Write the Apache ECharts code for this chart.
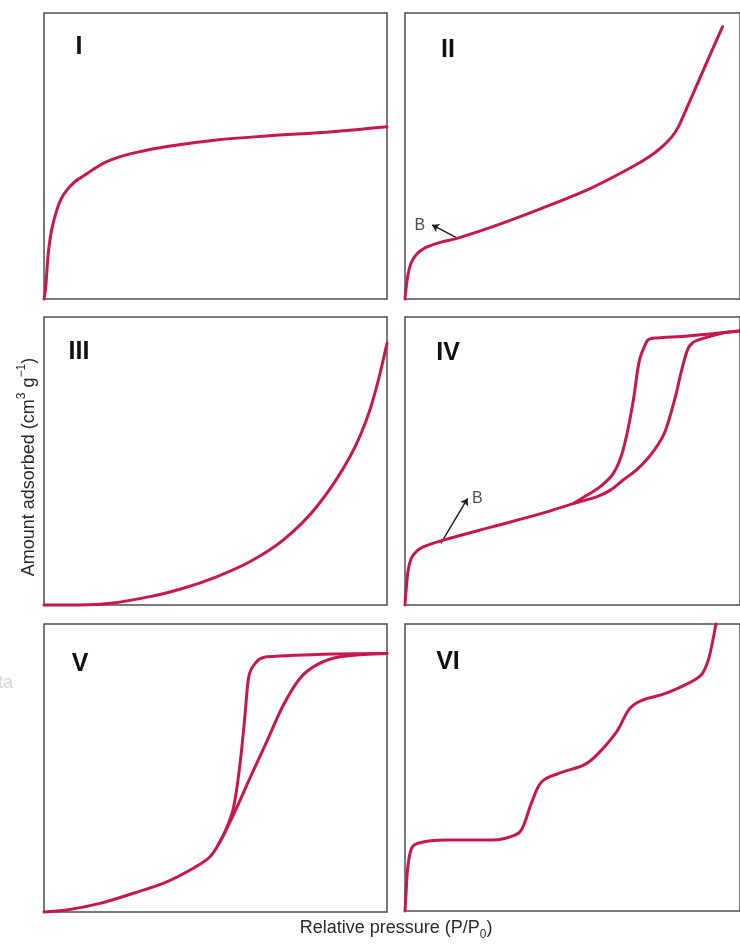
<!DOCTYPE html>
<html>
<head>
<meta charset="utf-8">
<script src="https://cdn.jsdelivr.net/npm/echarts@6/dist/echarts.min.js"></script>
<style>
  html, body { margin: 0; padding: 0; background: #ffffff; }
  #chart { width: 740px; height: 944px; }
</style>
</head>
<body>
<div id="chart"></div>
<script>
// ---- Data (relative pressure P/P0, normalised amount adsorbed) ----
const panelLabels = ['I', 'II', 'III', 'IV', 'V', 'VI'];

const typeI = [[0,0],[0.004,0.03],[0.008,0.09],[0.0125,0.16],[0.022,0.24],[0.037,0.31],[0.05,0.35],[0.066,0.38],[0.09,0.41],[0.115,0.43],[0.15,0.458],[0.183,0.48],[0.22,0.497],[0.26,0.51],[0.358,0.533],[0.503,0.556],[0.649,0.57],[0.843,0.585],[1.0,0.602]];

const typeII = [[0,0],[0.004,0.045],[0.0096,0.09],[0.018,0.125],[0.029,0.148],[0.045,0.168],[0.068,0.183],[0.105,0.198],[0.155,0.212],[0.262,0.253],[0.408,0.317],[0.554,0.387],[0.671,0.457],[0.73,0.498],[0.768,0.533],[0.795,0.565],[0.816,0.602],[0.84,0.665],[0.865,0.731],[0.904,0.836],[0.948,0.952]];

const typeIII = [[0,0],[0.163,0.003],[0.309,0.029],[0.406,0.058],[0.503,0.098],[0.60,0.15],[0.698,0.226],[0.795,0.341],[0.892,0.515],[0.95,0.677],[1.0,0.909]];

const typeIVads = [[0,0],[0.004,0.06],[0.0096,0.122],[0.018,0.16],[0.029,0.18],[0.045,0.196],[0.068,0.208],[0.117,0.226],[0.262,0.272],[0.408,0.318],[0.505,0.353],[0.573,0.376],[0.612,0.398],[0.651,0.434],[0.692,0.47],[0.729,0.515],[0.756,0.558],[0.778,0.608],[0.807,0.723],[0.826,0.816],[0.845,0.891],[0.86,0.912],[0.875,0.920],[0.943,0.943],[1.0,0.951]];
const typeIVdes = [[1.0,0.951],[0.845,0.934],[0.738,0.926],[0.725,0.92],[0.719,0.909],[0.70,0.851],[0.68,0.70],[0.651,0.538],[0.622,0.457],[0.583,0.411],[0.544,0.382],[0.505,0.354]];

const typeVads = [[0,0],[0.066,0.007],[0.163,0.030],[0.26,0.065],[0.358,0.105],[0.435,0.152],[0.484,0.192],[0.513,0.244],[0.552,0.337],[0.60,0.464],[0.649,0.591],[0.698,0.719],[0.746,0.811],[0.795,0.858],[0.863,0.886],[1.0,0.898]];
const typeVdes = [[1.0,0.898],[0.843,0.896],[0.649,0.886],[0.628,0.878],[0.62,0.869],[0.605,0.845],[0.596,0.811],[0.586,0.684],[0.571,0.51],[0.552,0.36],[0.528,0.279],[0.508,0.235]];

const typeVI = [[0,0],[0.004,0.08],[0.008,0.149],[0.0195,0.218],[0.039,0.236],[0.117,0.247],[0.262,0.247],[0.33,0.265],[0.35,0.288],[0.379,0.381],[0.408,0.45],[0.457,0.479],[0.534,0.509],[0.573,0.544],[0.632,0.625],[0.671,0.706],[0.709,0.735],[0.778,0.758],[0.845,0.793],[0.884,0.822],[0.904,0.869],[0.918,0.938],[0.928,1.0]];

// "B" point annotations (arrow tail, arrow tip, label position)
const arrowII = [[0.155,0.214],[0.081,0.259]];
const labelII = [0.044,0.255];
const arrowIV = [[0.107,0.214],[0.187,0.370]];
const labelIV = [0.216,0.368];

// ---- Layout ----
const grids = [
  {left: 44,  top: 13,  width: 343, height: 286},
  {left: 405, top: 13,  width: 343, height: 286},
  {left: 44,  top: 317, width: 343, height: 288},
  {left: 405, top: 317, width: 343, height: 288},
  {left: 44,  top: 624, width: 343, height: 288},
  {left: 405, top: 624, width: 343, height: 287}
];
const labelPos = [[79,47],[448,50],[79,352],[448,353],[80,664],[448,662]];

const LINE = '#c8174b';
const FONT = '"Liberation Sans", Arial, Helvetica, sans-serif';

const chart = echarts.init(document.getElementById('chart'), null, {renderer: 'canvas'});

const gridOpts = grids.map(g => Object.assign({
  show: true, borderColor: '#4d4d4d', borderWidth: 1.5, backgroundColor: 'transparent'
}, g));
const xAxes = grids.map((g, i) => ({gridIndex: i, type: 'value', min: 0, max: 1, show: false}));
const yAxes = grids.map((g, i) => ({gridIndex: i, type: 'value', min: 0, max: 1, show: false}));

function curve(idx, data) {
  return {
    type: 'line', xAxisIndex: idx, yAxisIndex: idx, data: data,
    showSymbol: false, symbol: 'none', smooth: 0.35, clip: false,
    lineStyle: {color: LINE, width: 3, cap: 'round', join: 'round'},
    silent: true, animation: false
  };
}
function arrow(idx, coords) {
  return {
    type: 'lines', coordinateSystem: 'cartesian2d', xAxisIndex: idx, yAxisIndex: idx,
    data: [{coords: coords}], symbol: ['none', 'arrow'], symbolSize: 7,
    lineStyle: {color: '#1a1a1a', width: 1.4, opacity: 1}, silent: true, animation: false
  };
}
function bLabel(idx, pos) {
  return {
    type: 'scatter', xAxisIndex: idx, yAxisIndex: idx, data: [pos],
    symbolSize: 1, itemStyle: {color: 'rgba(0,0,0,0)'}, silent: true, animation: false,
    label: {show: true, position: 'inside', formatter: 'B', color: '#222', fontSize: 16, fontFamily: FONT}
  };
}

const series = [
  curve(0, typeI),
  curve(1, typeII),
  curve(2, typeIII),
  curve(3, typeIVads),
  curve(3, typeIVdes),
  curve(4, typeVads),
  curve(4, typeVdes),
  curve(5, typeVI),
  arrow(1, arrowII), bLabel(1, labelII),
  arrow(3, arrowIV), bLabel(3, labelIV)
];

const graphic = panelLabels.map((t, i) => ({
  type: 'text', x: labelPos[i][0], y: labelPos[i][1], silent: true,
  style: {text: t, fill: '#111', font: 'bold 25px ' + FONT, textAlign: 'center', textVerticalAlign: 'middle'}
}));
graphic.push({
  type: 'text', x: 27, y: 467, rotation: Math.PI / 2, silent: true,
  style: {
    text: '{a|Amount adsorbed (cm}{s|3}{a| g}{s|\u22121}{a|)}',
    textAlign: 'center', textVerticalAlign: 'middle', fill: '#2a2a2a',
    rich: {
      a: {fontSize: 18, fontFamily: FONT, color: '#2a2a2a', lineHeight: 22, verticalAlign: 'bottom'},
      s: {fontSize: 12, fontFamily: FONT, color: '#2a2a2a', lineHeight: 22, verticalAlign: 'top'}
    }
  }
});
graphic.push({
  type: 'text', x: 396, y: 930, silent: true,
  style: {
    text: '{a|Relative pressure (P/P}{b|0}{a|)}',
    textAlign: 'center', textVerticalAlign: 'middle', fill: '#2a2a2a',
    rich: {
      a: {fontSize: 18, fontFamily: FONT, color: '#2a2a2a', lineHeight: 22, verticalAlign: 'top'},
      b: {fontSize: 12, fontFamily: FONT, color: '#2a2a2a', lineHeight: 22, verticalAlign: 'bottom'}
    }
  }
});
graphic.push({
  type: 'text', x: 13, y: 683, silent: true,
  style: {text: 'ta', fill: '#d6d6d6', font: '18px ' + FONT, textAlign: 'right', textVerticalAlign: 'middle'}
});

chart.setOption({
  backgroundColor: '#ffffff',
  animation: false,
  grid: gridOpts,
  xAxis: xAxes,
  yAxis: yAxes,
  series: series,
  graphic: graphic
});
</script>
</body>
</html>
